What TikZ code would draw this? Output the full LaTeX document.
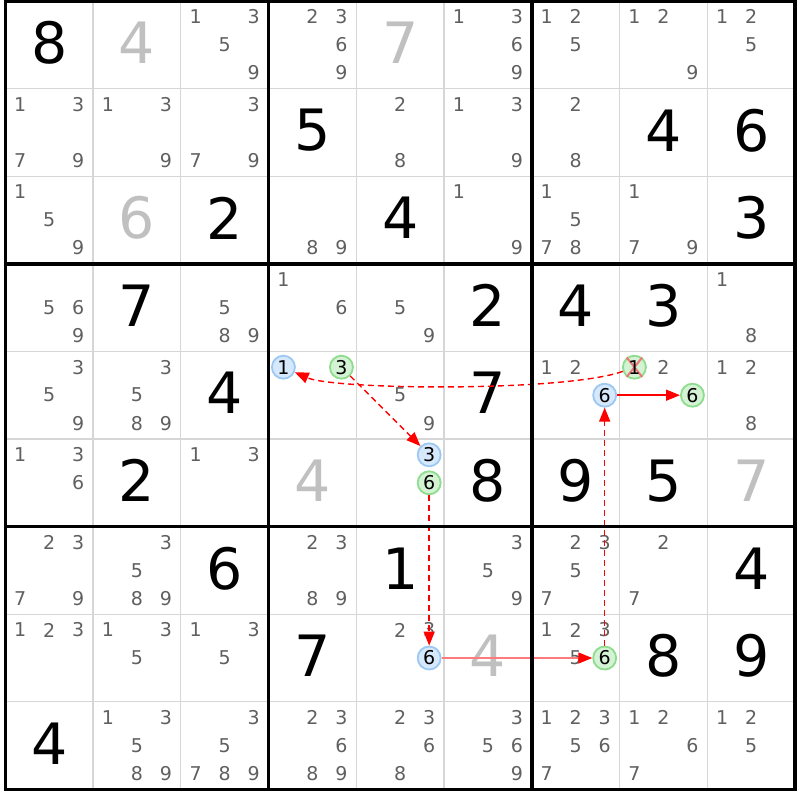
\documentclass[tikz,border=0pt]{standalone}
\usepackage{fontspec}
\setmainfont{DejaVu Sans}
\usetikzlibrary{arrows.meta}
\definecolor{candgray}{HTML}{606060}
\definecolor{solvedgray}{HTML}{C0C0C0}
\definecolor{gridgray}{HTML}{D6D6D6}
\definecolor{bluefill}{HTML}{D6E8FB}
\definecolor{bluedraw}{HTML}{9CC8F2}
\definecolor{greenfill}{HTML}{D4F2D4}
\definecolor{greendraw}{HTML}{8EDC8E}
\definecolor{chainred}{HTML}{FF0000}
\definecolor{linkpink}{HTML}{FF7A7A}
\definecolor{xred}{HTML}{F07878}
\newcommand\sdkpos[3]{%
  \pgfmathsetmacro\px{5.3+(#2-0.5)*87.75+(mod(#3-1,3)-1)*29}%
  \pgfmathsetmacro\py{1+(#1-0.5)*87.6+(floor((#3-1)/3)-1)*28}%
}
\newcommand\sdkcands[3]{\foreach \kk in {#3}{\sdkpos{#1}{#2}{\kk}\node[cand] (k#1#2\kk) at (\px,\py) {\kk};}}
\newcommand\sdkbig[4]{\pgfmathsetmacro\px{5.3+(#2-0.5)*87.75}\pgfmathsetmacro\py{1+(#1-0.5)*87.6-2}\node[#4] (d#1#2) at (\px,\py) {#3};}
\newcommand\sdkcirc[5]{\sdkpos{#1}{#2}{#3}\node[#4] (#5) at (\px,\py) {#3};}
\tikzset{
  cand/.style={text=candgray, font=\fontsize{19}{19}\selectfont, inner sep=0pt, anchor=center},
  given/.style={text=black, font=\fontsize{57}{57}\selectfont, inner sep=0pt, anchor=center},
  solved/.style={given, text=solvedgray},
  bluecand/.style={circle, draw=bluedraw, fill=bluefill, line width=1.8pt, minimum size=23pt, inner sep=0pt, font=\fontsize{19}{19}\selectfont, text=black},
  greencand/.style={bluecand, draw=greendraw, fill=greenfill},
  thingrid/.style={draw=gridgray, line width=1.3pt},
  thickgrid/.style={draw=black, line width=3.5pt, line cap=rect},
  chain/.style={draw=chainred, color=chainred, line width=1.4pt, dash pattern=on 6pt off 4pt, -{Triangle[length=14pt,width=11pt,color=chainred]}},
  strong/.style={draw=chainred, color=chainred, line width=1.5pt, -{Triangle[length=14pt,width=11pt,color=chainred]}},
  weaklink/.style={draw=linkpink, color=linkpink, line width=1.4pt, -{Triangle[length=14pt,width=11pt,color=chainred]}},
  xmark/.style={draw=xred, line width=2pt},
}
\begin{document}
\begin{tikzpicture}[x=1pt,y=-1pt]
\useasboundingbox (0,0) rectangle (800,800);
\fill[white] (0,0) rectangle (800,800);
% thin grid
\foreach \i in {0,...,9}{
  \draw[thingrid] ({5.3+\i*87.75},1) -- ({5.3+\i*87.75},789.4);
  \draw[thingrid] (5.3,{1+\i*87.6}) -- (795,{1+\i*87.6});
}
% row 1
\sdkbig{1}{1}{8}{given}
\sdkbig{1}{2}{4}{solved}
\sdkcands{1}{3}{1,3,5,9}
\sdkcands{1}{4}{2,3,6,9}
\sdkbig{1}{5}{7}{solved}
\sdkcands{1}{6}{1,3,6,9}
\sdkcands{1}{7}{1,2,5}
\sdkcands{1}{8}{1,2,9}
\sdkcands{1}{9}{1,2,5}
% row 2
\sdkcands{2}{1}{1,3,7,9}
\sdkcands{2}{2}{1,3,9}
\sdkcands{2}{3}{3,7,9}
\sdkbig{2}{4}{5}{given}
\sdkcands{2}{5}{2,8}
\sdkcands{2}{6}{1,3,9}
\sdkcands{2}{7}{2,8}
\sdkbig{2}{8}{4}{given}
\sdkbig{2}{9}{6}{given}
% row 3
\sdkcands{3}{1}{1,5,9}
\sdkbig{3}{2}{6}{solved}
\sdkbig{3}{3}{2}{given}
\sdkcands{3}{4}{8,9}
\sdkbig{3}{5}{4}{given}
\sdkcands{3}{6}{1,9}
\sdkcands{3}{7}{1,5,7,8}
\sdkcands{3}{8}{1,7,9}
\sdkbig{3}{9}{3}{given}
% row 4
\sdkcands{4}{1}{5,6,9}
\sdkbig{4}{2}{7}{given}
\sdkcands{4}{3}{5,8,9}
\sdkcands{4}{4}{1,6}
\sdkcands{4}{5}{5,9}
\sdkbig{4}{6}{2}{given}
\sdkbig{4}{7}{4}{given}
\sdkbig{4}{8}{3}{given}
\sdkcands{4}{9}{1,8}
% row 5
\sdkcands{5}{1}{3,5,9}
\sdkcands{5}{2}{3,5,8,9}
\sdkbig{5}{3}{4}{given}
\sdkcirc{5}{4}{1}{bluecand}{b1}
\sdkcirc{5}{4}{3}{greencand}{g3}
\sdkcands{5}{5}{5,9}
\sdkbig{5}{6}{7}{given}
\sdkcands{5}{7}{1,2}
\sdkcirc{5}{7}{6}{bluecand}{b6b}
\sdkcands{5}{8}{2}
\sdkpos{5}{8}{1}
\node[greencand] (gx1) at (\px,\py) {};
\draw[xmark] ([shift={(1,-1)}]gx1.north west) -- ([shift={(-1,1)}]gx1.south east);
\draw[xmark] ([shift={(-1,-1)}]gx1.north east) -- ([shift={(1,1)}]gx1.south west);
\node[cand, text=black] (gx1t) at (gx1) {1};
\sdkcirc{5}{8}{6}{greencand}{g6c}
\sdkcands{5}{9}{1,2,8}
% row 6
\sdkcands{6}{1}{1,3,6}
\sdkbig{6}{2}{2}{given}
\sdkcands{6}{3}{1,3}
\sdkbig{6}{4}{4}{solved}
\sdkcirc{6}{5}{3}{bluecand}{b3}
\sdkcirc{6}{5}{6}{greencand}{g6a}
\sdkbig{6}{6}{8}{given}
\sdkbig{6}{7}{9}{given}
\sdkbig{6}{8}{5}{given}
\sdkbig{6}{9}{7}{solved}
% row 7
\sdkcands{7}{1}{2,3,7,9}
\sdkcands{7}{2}{3,5,8,9}
\sdkbig{7}{3}{6}{given}
\sdkcands{7}{4}{2,3,8,9}
\sdkbig{7}{5}{1}{given}
\sdkcands{7}{6}{3,5,9}
\sdkcands{7}{7}{2,3,5,7}
\sdkcands{7}{8}{2,7}
\sdkbig{7}{9}{4}{given}
% row 8
\sdkcands{8}{1}{1,2,3}
\sdkcands{8}{2}{1,3,5}
\sdkcands{8}{3}{1,3,5}
\sdkbig{8}{4}{7}{given}
\sdkcands{8}{5}{2,3}
\sdkcirc{8}{5}{6}{bluecand}{b6a}
\sdkbig{8}{6}{4}{solved}
\sdkcands{8}{7}{1,2,3,5}
\sdkcirc{8}{7}{6}{greencand}{g6b}
\sdkbig{8}{8}{8}{given}
\sdkbig{8}{9}{9}{given}
% row 9
\sdkbig{9}{1}{4}{given}
\sdkcands{9}{2}{1,3,5,8,9}
\sdkcands{9}{3}{3,5,7,8,9}
\sdkcands{9}{4}{2,3,6,8,9}
\sdkcands{9}{5}{2,3,6,8}
\sdkcands{9}{6}{3,5,6,9}
\sdkcands{9}{7}{1,2,3,5,6,7}
\sdkcands{9}{8}{1,2,6,7}
\sdkcands{9}{9}{1,2,5}
% chain
\draw[chain] (gx1) .. controls (565,392) and (335,390) .. (b1);
\draw[chain] (g3) -- (b3);
\draw[chain] (g6a.south) -- (b6a.north);
\draw[weaklink] (b6a) -- (g6b);
\draw[chain] (g6b.north) -- (b6b.south);
\draw[strong] (b6b) -- (g6c);
% thick grid
\foreach \i in {0,3,6,9}{
  \draw[thickgrid] ({5.3+\i*87.75},1) -- ({5.3+\i*87.75},789.4);
  \draw[thickgrid] (5.3,{1+\i*87.6}) -- (795,{1+\i*87.6});
}
\end{tikzpicture}
\end{document}
